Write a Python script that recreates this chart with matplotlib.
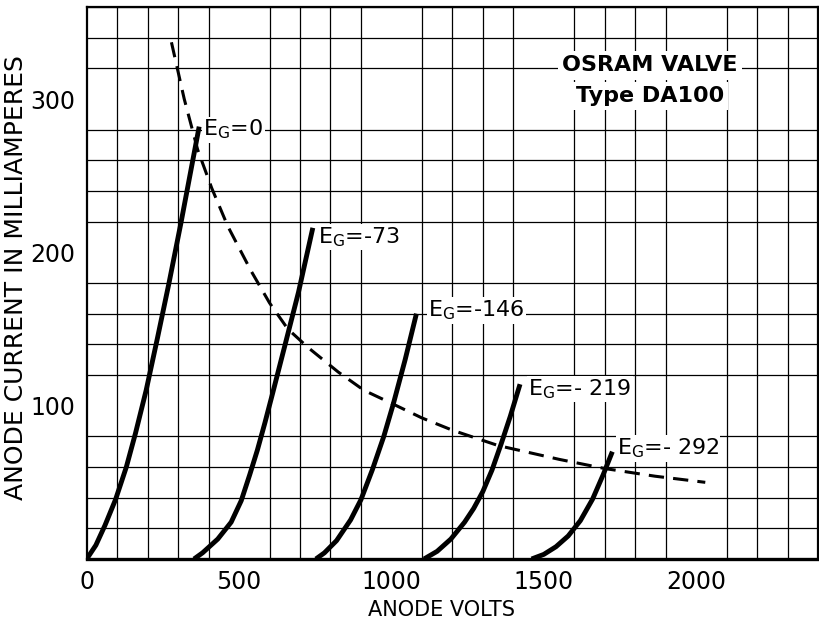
import matplotlib
matplotlib.use("Agg")
import matplotlib.pyplot as plt

# characteristic curves (anode volts, anode mA)
eg0_v = [0, 30, 60, 95, 130, 160, 195, 232, 270, 310, 369]
eg0_i = [0, 9, 22, 39, 60, 82, 110, 144, 180, 220, 282]

eg73_v = [352, 380, 430, 474, 507, 535, 560, 585, 610, 650, 695, 742]
eg73_i = [0, 4, 13, 24, 38, 55, 71, 89, 108, 139, 174, 216]

eg146_v = [752, 780, 820, 866, 900, 937, 975, 1006, 1045, 1082]
eg146_i = [0, 4, 12, 25.5, 38.7, 58, 80, 101, 130, 160]

eg219_v = [1107, 1150, 1195, 1240, 1270, 1300, 1330, 1360, 1390, 1422]
eg219_i = [0, 5, 13, 24, 33, 44, 58, 75, 93, 114]

eg292_v = [1460, 1500, 1540, 1580, 1620, 1660, 1695, 1725]
eg292_i = [0, 3, 8, 15, 25, 39, 55, 70]

# dashed limiting curve
lim_v = [278, 320, 364, 410, 463, 539, 600, 660, 726, 825, 910, 1006, 1100, 1200, 1350, 1550, 1700, 1865, 2030]
lim_i = [337, 300, 267, 242, 217, 188, 167, 150, 138, 122, 110, 101, 92, 84, 74, 65, 59, 54, 50]

curves = [(eg0_v, eg0_i), (eg73_v, eg73_i), (eg146_v, eg146_i),
          (eg219_v, eg219_i), (eg292_v, eg292_i)]
labels = ["0", "-73", "-146", "- 219", "- 292"]
label_pos = [(382, 280), (759, 210), (1120, 162), (1448, 111), (1740, 72)]

fig = plt.figure(figsize=(8.19, 6.22), dpi=100)
ax = fig.add_axes([0.1059, 0.1013, 0.8929, 0.8874])

ax.set_xlim(0, 2400)
ax.set_ylim(0, 360)
ax.set_xticks(range(0, 2401, 100), minor=True)
ax.set_yticks(range(0, 361, 20), minor=True)
ax.grid(which="minor", color="black", linewidth=0.9)
ax.set_xticks([0, 500, 1000, 1500, 2000])
ax.set_yticks([100, 200, 300])
ax.tick_params(which="both", length=0, labelsize=17, pad=8)
for s in ax.spines.values():
    s.set_linewidth(1.6)
ax.spines["bottom"].set_linewidth(2.4)
ax.set_axisbelow(True)

for v, i in curves:
    ax.plot(v, i, color="black", linewidth=3.5, solid_capstyle="butt",
            solid_joinstyle="round", zorder=3)
ax.plot(lim_v, lim_i, color="black", linewidth=2.2, dashes=(5, 3), zorder=3)

for lab, (x, y) in zip(labels, label_pos):
    ax.text(x, y, r"E$_\mathregular{G}$=" + lab, fontsize=16, ha="left", va="center",
            bbox=dict(facecolor="white", edgecolor="none", pad=1), zorder=4)

ax.text(1849, 322, "OSRAM VALVE", fontsize=16, fontweight="bold", ha="center", va="center",
        bbox=dict(facecolor="white", edgecolor="none", pad=3), zorder=4)
ax.text(1849, 302, "Type DA100", fontsize=16, fontweight="bold", ha="center", va="center",
        bbox=dict(facecolor="white", edgecolor="none", pad=3), zorder=4)

ax.set_xlabel("ANODE VOLTS", fontsize=15)
ax.xaxis.set_label_coords(0.485, -0.075)
ax.set_ylabel("ANODE CURRENT IN MILLIAMPERES", fontsize=18)
ax.yaxis.set_label_coords(-0.08, 0.51)

fig.savefig("out.png", dpi=100)
